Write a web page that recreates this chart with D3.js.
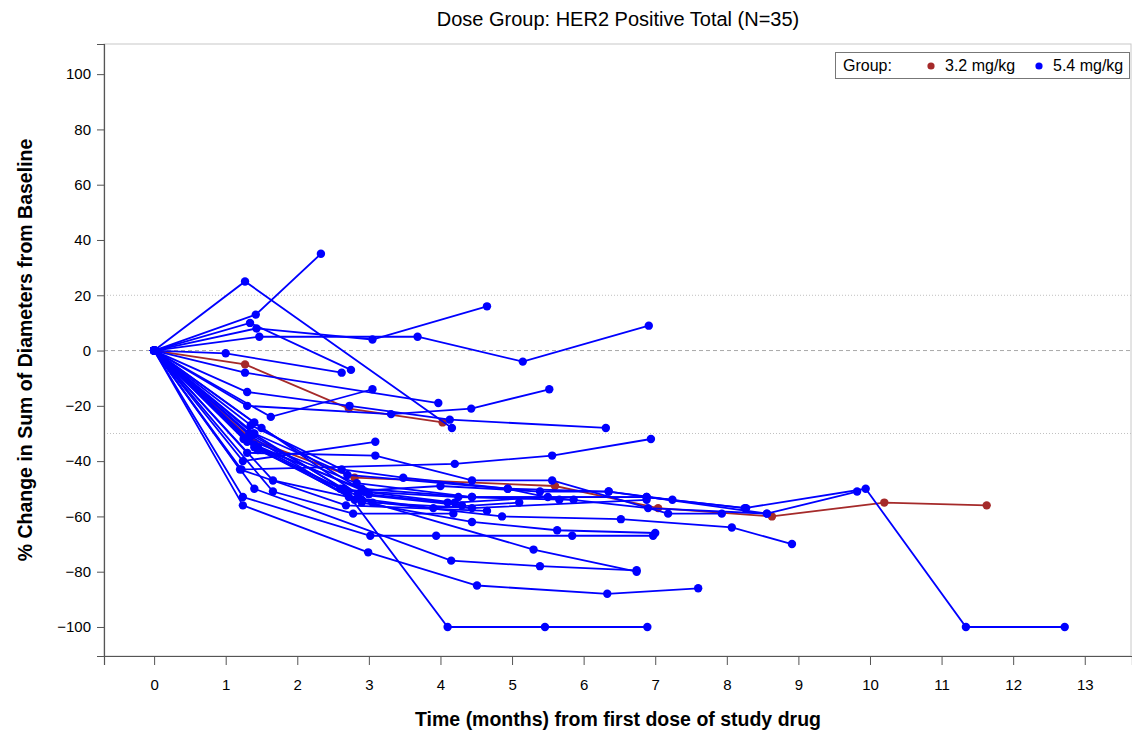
<!DOCTYPE html>
<html>
<head>
<meta charset="utf-8">
<script src="https://cdn.jsdelivr.net/npm/d3@7"></script>
<style>
	body { margin: 0; background: #fff; }
	svg text { font-family: "Liberation Sans", Arial, sans-serif; }
</style>
</head>
<body>
<svg id="chart" width="1132" height="731"></svg>
<script>

// tick labels
var xTicks = [0, 1, 2, 3, 4, 5, 6, 7, 8, 9, 10, 11, 12, 13];
var yTicks = [-100, -80, -60, -40, -20, 0, 20, 40, 60, 80, 100];

// reference lines (dotted at +20 / -30, dashed at 0)
var refValues = [20, 0, -30];

var groupNames = ['3.2 mg/kg', '5.4 mg/kg'];

// dose group of each patient (0 = 3.2 mg/kg, 1 = 5.4 mg/kg)
var patientGroup = [
	0, 0,
	1, 1, 1, 1, 1, 1, 1, 1, 1, 1,
	1, 1, 1, 1, 1, 1, 1, 1, 1, 1,
	1, 1, 1, 1, 1, 1, 1, 1, 1, 1,
	1, 1, 1
];

// months from first dose, per patient
var patientMonths = [
	[0, 1.27, 2.72, 4.03],
	[0, 1.35, 2.8, 5.6, 7.04, 8.63, 10.2, 11.63],
	[0, 1.42, 2.33],
	[0, 1.27, 4.16],
	[0, 1.47, 3.68, 5.15, 6.91],
	[0, 1.43, 3.05, 4.65],
	[0, 1.34, 2.75],
	[0, 1.0, 2.62],
	[0, 1.27, 3.97],
	[0, 1.3, 3.31, 4.43, 5.52],
	[0, 1.63, 3.05],
	[0, 1.3, 2.73, 4.13, 6.31],
	[0, 1.24, 3.09],
	[0, 1.22, 4.2, 5.56, 6.94],
	[0, 1.3, 3.09, 4.44, 5.56, 7.18, 7.93],
	[0, 1.4, 2.7, 4.94, 6.35, 8.56, 9.82],
	[0, 1.45, 2.9, 4.44, 6.88, 8.25, 9.94, 11.34, 12.72],
	[0, 1.3, 2.8, 4.86, 6.52, 8.07, 8.91],
	[0, 1.4, 2.9, 4.44, 5.63, 7.0],
	[0, 1.24, 3.02, 3.94, 5.84, 6.97],
	[0, 1.24, 2.99, 4.51, 6.33, 7.6],
	[0, 1.4, 4.15, 5.39, 6.74],
	[0, 1.66, 2.9, 5.3, 6.74],
	[0, 1.33, 2.65, 4.1, 5.46, 6.89],
	[0, 1.66, 2.78, 4.18],
	[0, 1.2, 2.68, 4.65],
	[0, 1.35, 2.62, 3.48, 4.94, 5.66],
	[0, 1.38, 2.69, 4.0, 5.39, 6.35, 7.24],
	[0, 1.4, 2.95, 4.25, 5.86],
	[0, 1.3, 2.83, 4.44, 6.88, 8.27],
	[0, 1.45, 3.05, 4.44, 6.88],
	[0, 1.35, 2.72, 3.9, 5.1],
	[0, 1.5, 3.0, 4.1],
	[0, 1.25, 2.6, 4.2, 5.5, 6.9, 8.56],
	[0, 1.4, 2.85, 4.3]
];

// % change in sum of diameters, per patient
var patientChange = [
	[0, -5, -21, -26],
	[0, -32, -46, -49, -57, -60, -55, -56],
	[0, 13, 35],
	[0, 25, -28],
	[0, 5, 5, -4, 9],
	[0, 8, 4, 16],
	[0, 10, -7],
	[0, -1, -8],
	[0, -8, -19],
	[0, -20, -23, -21, -14],
	[0, -24, -14],
	[0, -15, -20, -25, -28],
	[0, -40, -33],
	[0, -43, -41, -38, -32],
	[0, -37, -38, -47, -47, -59, -59],
	[0, -30, -45, -50, -51, -59, -51],
	[0, -35, -50, -53, -53, -57, -50, -100, -100],
	[0, -33, -54, -60, -61, -64, -70],
	[0, -35, -55, -62, -65, -66],
	[0, -53, -67, -67, -67, -67],
	[0, -56, -73, -85, -88, -86],
	[0, -50, -76, -78, -79.5],
	[0, -47, -54, -72, -80],
	[0, -30, -50, -100, -100, -100],
	[0, -51, -59, -59],
	[0, -43, -56, -58],
	[0, -27, -43, -46, -50, -54],
	[0, -30, -51, -49, -51, -51, -54],
	[0, -34, -51, -53, -54],
	[0, -32, -48, -53, -53, -57],
	[0, -36, -55, -57, -54],
	[0, -31, -53, -57, -55],
	[0, -28, -52, -55],
	[0, -32, -50, -55, -53, -57, -59],
	[0, -26, -52, -56]
];

var groupColors = ['#a52a2a', '#0000ff'];

var svg = d3.select('#chart');
var plotLeft = 104, plotRight = 1131, plotTop = 44, plotBottom = 656;

var x = d3.scaleLinear().domain([-0.7, 13.66]).range([plotLeft, 1132]);
var y = d3.scaleLinear().domain([-110.5, 110.9]).range([plotBottom, plotTop]);

/**
 * Title
 */
svg.append('text')
	.attr('x', 618).attr('y', 26)
	.attr('text-anchor', 'middle')
	.style('font-size', '20px')
	.text('Dose Group: HER2 Positive Total (N=35)');

/**
 * Frame
 */
svg.append('rect')
	.attr('x', plotLeft).attr('y', plotTop)
	.attr('width', plotRight - plotLeft).attr('height', plotBottom - plotTop)
	.attr('fill', 'none').attr('stroke', '#c8c8c8');

/**
 * Reference lines
 */
svg.selectAll('.ref').data(refValues).enter().append('line')
	.attr('x1', plotLeft).attr('x2', plotRight)
	.attr('y1', function(d) { return y(d); })
	.attr('y2', function(d) { return y(d); })
	.attr('stroke', function(d) { return d == 0 ? '#a8a8a8' : '#c0c0c0'; })
	.attr('stroke-width', 1)
	.attr('stroke-dasharray', function(d) { return d == 0 ? '4,3' : '1,2'; });

/**
 * Axes
 */
var xAxis = svg.append('g')
	.attr('transform', 'translate(0,' + plotBottom + ')')
	.call(d3.axisBottom(x).tickValues(xTicks).tickSize(9).tickPadding(14).tickFormat(d3.format('d')));

var yAxis = svg.append('g')
	.attr('transform', 'translate(' + plotLeft + ',0)')
	.call(d3.axisLeft(y).tickValues(yTicks).tickSize(7).tickPadding(6).tickFormat(d3.format('d')));

[xAxis, yAxis].forEach(function(a) {
	a.select('.domain').attr('stroke', '#555').attr('stroke-width', 1.2);
	a.selectAll('.tick line').attr('stroke', '#555');
	a.selectAll('.tick text').style('font-size', '15px').attr('fill', '#000');
});

svg.append('text')
	.attr('x', 618).attr('y', 726)
	.attr('text-anchor', 'middle')
	.style('font-size', '19.5px').style('font-weight', 'bold')
	.text('Time (months) from first dose of study drug');

svg.append('text')
	.attr('transform', 'translate(32,' + 350 + ') rotate(-90)')
	.attr('text-anchor', 'middle')
	.style('font-size', '19.5px').style('font-weight', 'bold')
	.text('% Change in Sum of Diameters from Baseline');

/**
 * Patient lines and markers
 */
var line = d3.line()
	.x(function(d) { return x(d[0]); })
	.y(function(d) { return y(d[1]); });

var plot = svg.append('g');

patientMonths.forEach(function(months, i) {
	var pts = months.map(function(m, j) { return [m, patientChange[i][j]]; });
	var color = groupColors[patientGroup[i]];
	var g = plot.append('g');

	g.append('path')
		.datum(pts)
		.attr('d', line)
		.attr('fill', 'none')
		.attr('stroke', color)
		.attr('stroke-width', 1.8);

	g.selectAll('circle').data(pts).enter().append('circle')
		.attr('cx', function(d) { return x(d[0]); })
		.attr('cy', function(d) { return y(d[1]); })
		.attr('r', 4.2)
		.attr('fill', color);
});

/**
 * Legend
 */
var legend = svg.append('g');
legend.append('rect')
	.attr('x', 835.5).attr('y', 52.5)
	.attr('width', 294).attr('height', 26)
	.attr('fill', '#fff').attr('stroke', '#777');
legend.append('text')
	.attr('x', 843).attr('y', 71)
	.style('font-size', '16px')
	.text('Group:');

var legendX = [931, 1039];
groupNames.forEach(function(name, i) {
	legend.append('circle')
		.attr('cx', legendX[i]).attr('cy', 66).attr('r', 3.6)
		.attr('fill', groupColors[i]);
	legend.append('text')
		.attr('x', legendX[i] + 14).attr('y', 71)
		.style('font-size', '16px')
		.text(name);
});

</script>
</body>
</html>
